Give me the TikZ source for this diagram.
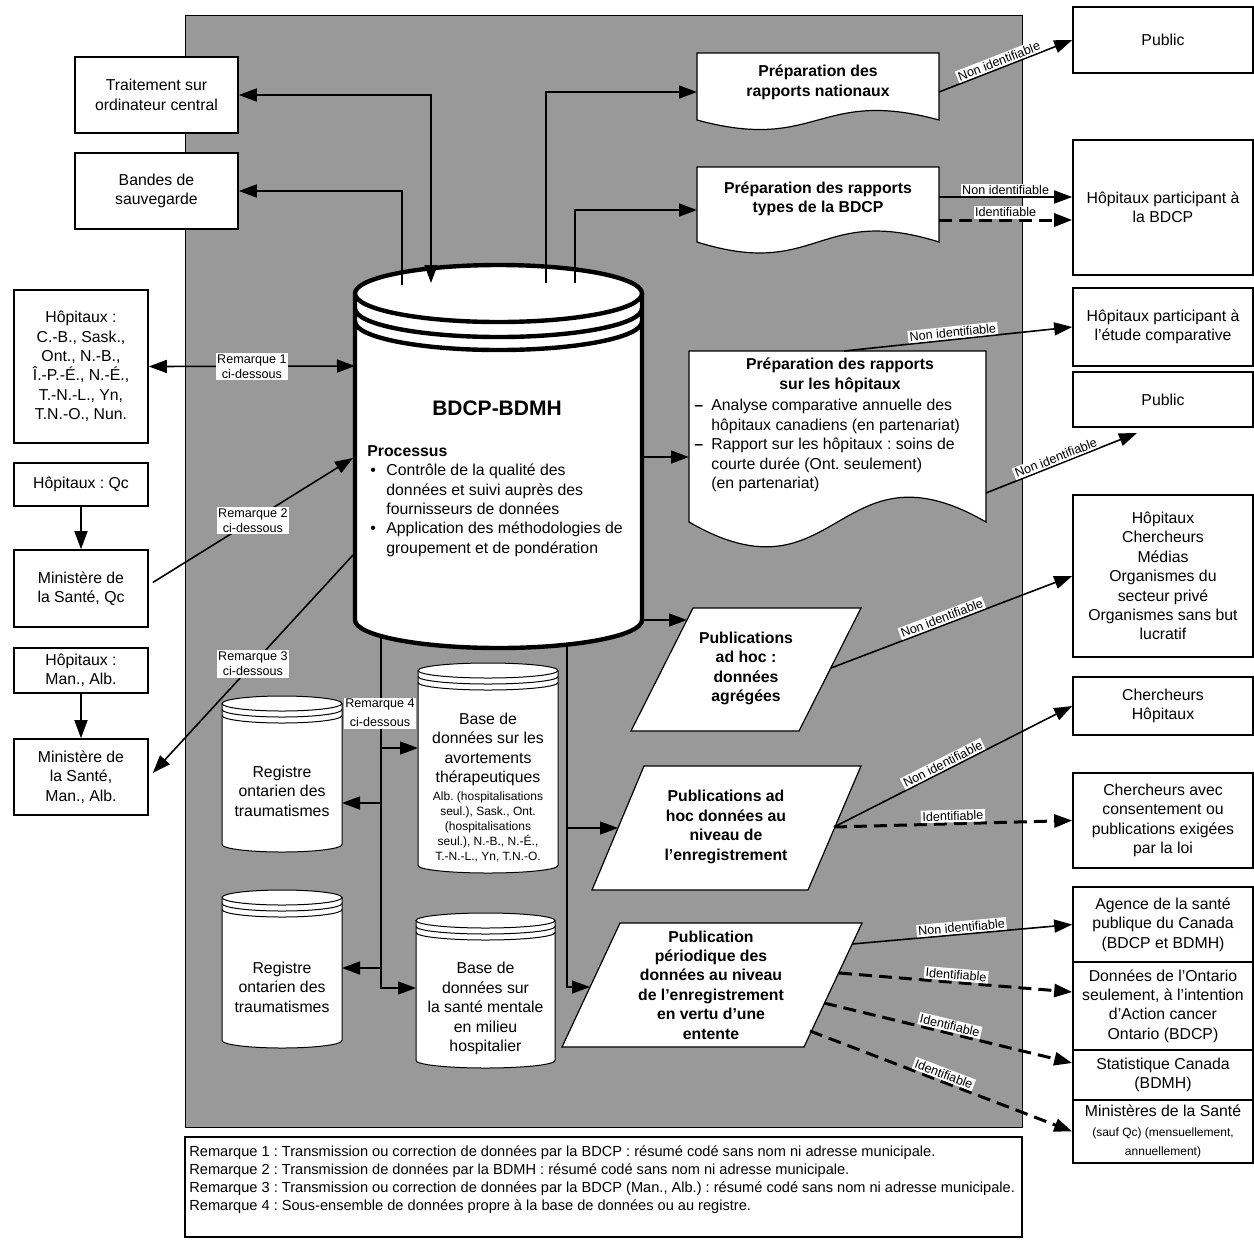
\documentclass[tikz,border=0pt]{standalone}
\usepackage{fontspec}
\setmainfont{Liberation Sans}
\usetikzlibrary{arrows.meta}
\newcommand\dgmfont{\fontsize{7.9}{9.7}\selectfont}
\newcommand\dgmsmall{\fontsize{6}{7.5}\selectfont}
\newcommand\dgmlab{\fontsize{6.3}{7.5}\selectfont}
\newcommand\dgmbig{\fontsize{10.5}{12}\selectfont}
\newcommand\dgmnote{\fontsize{7.3}{9}\selectfont}
\frenchspacing
\tikzset{
  box/.style={draw, fill=white, line width=0.8pt, align=center, font=\dgmfont, inner sep=1pt},
  lbox/.style={box, minimum width=67pt},
  rbox/.style={box, minimum width=90pt},
  shp/.style={draw, fill=white, line width=0.6pt},
  bigc/.style={draw, fill=white, line width=2.2pt},
  btxt/.style={font=\dgmfont\bfseries, align=center},
  lbl/.style={fill=white, inner sep=0.8pt, font=\dgmlab, align=center},
  arr/.style={-{Triangle[length=9pt,width=6.5pt]}, line width=0.8pt},
  arr2/.style={{Triangle[length=9pt,width=6.5pt]}-{Triangle[length=9pt,width=6.5pt]}, line width=0.8pt},
  darr/.style={arr, line width=1.5pt, dash pattern=on 6.5pt off 3.5pt},
}
\begin{document}
\frenchspacing
\begin{tikzpicture}[x=0.5pt, y=-0.5pt]
\useasboundingbox (0,0) rectangle (1254,1239);
% shaded area
\fill[black!40] (185,15) rectangle (1022,1127);
\draw[line width=0.5pt] (185,15) rectangle (1022,1127);

% left boxes
\node[box, minimum width=81.5pt, minimum height=38pt] (trait) at (156.5,95) {Traitement sur\\ordinateur central};
\node[box, minimum width=81.5pt, minimum height=38pt] (bandes) at (156.5,191) {Bandes de\\sauvegarde};
\node[lbox, minimum height=76.5pt] (hopA) at (81,366.5) {Hôpitaux :\\C.-B., Sask.,\\Ont., N.-B.,\\Î.-P.-É., N.-É.,\\T.-N.-L., Yn,\\T.N.-O., Nun.};
\node[lbox, minimum height=21.5pt] (hopQc) at (81,484.5) {Hôpitaux : Qc};
\node[lbox, minimum height=38.5pt] (minQc) at (81,588.5) {Ministère de\\la Santé, Qc};
\node[lbox, minimum height=22.5pt] (hopMA) at (81,670.5) {Hôpitaux :\\Man., Alb.};
\node[lbox, minimum height=38pt] (minMA) at (81,777) {Ministère de\\la Santé,\\Man., Alb.};

% right boxes
\node[rbox, minimum height=33pt] (pubA) at (1163,40) {Public};
\node[rbox, minimum height=67.5pt] (hopBDCP) at (1163,207.5) {Hôpitaux participant à\\la BDCP};
\node[rbox, minimum height=39pt] (hopEtude) at (1163,327) {Hôpitaux participant à\\l’étude comparative};
\node[rbox, minimum height=27.5pt] (pubB) at (1163,399.5) {Public};
\node[rbox, minimum height=81pt] (divers) at (1163,576) {Hôpitaux\\Chercheurs\\Médias\\Organismes du\\secteur privé\\Organismes sans but\\lucratif};
\node[rbox, minimum height=29pt] (cherHop) at (1163,706) {Chercheurs\\Hôpitaux};
\node[rbox, minimum height=47.5pt] (cherCons) at (1163,820.5) {Chercheurs avec\\consentement ou\\publications exigées\\par la loi};
\node[rbox, minimum height=37.5pt] (agence) at (1163,924.5) {Agence de la santé\\publique du Canada\\(BDCP et BDMH)};
\node[rbox, minimum height=44pt] (ontario) at (1163,1006) {Données de l’Ontario\\seulement, à l’intention\\d’Action cancer\\Ontario (BDCP)};
\node[rbox, minimum height=25pt] (statcan) at (1163,1075) {Statistique Canada\\(BDMH)};
\node[rbox, minimum height=31.5pt] (minSante) at (1163,1131.5) {Ministères de la Santé\\\dgmsmall (sauf Qc) (mensuellement,\\\dgmsmall annuellement)};

% notes
\node[draw, line width=0.6pt, minimum width=418.5pt, minimum height=50pt, inner sep=0] (notes) at (603.5,1187) {};
\node[anchor=north west, align=left, font=\dgmnote, inner sep=0] (notetxt) at (189,1145) {Remarque 1 : Transmission ou correction de données par la BDCP : résumé codé sans nom ni adresse municipale.\\
Remarque 2 : Transmission de données par la BDMH : résumé codé sans nom ni adresse municipale.\\
Remarque 3 : Transmission ou correction de données par la BDCP (Man., Alb.) : résumé codé sans nom ni adresse municipale.\\
Remarque 4 : Sous-ensemble de données propre à la base de données ou au registre.};

% documents
\draw[shp] (697,53) -- (939,53) -- (939,120) .. controls (818,87) and (818,153) .. (697,120) -- cycle;
\node[btxt] (nat) at (818,82.5) {Préparation des\\rapports nationaux};
\draw[shp] (697,167) -- (939,167) -- (939,242) .. controls (818,204) and (818,280) .. (697,242) -- cycle;
\node[btxt] (types) at (818,199) {Préparation des rapports\\types de la BDCP};
\draw[shp] (689,351) -- (986,351) -- (986,522) .. controls (837.5,436) and (837.5,608) .. (689,522) -- cycle;
\node[btxt] (hosp) at (840,375.5) {Préparation des rapports\\sur les hôpitaux};
\node[anchor=north west, align=left, font=\dgmfont, inner sep=0] (hospItems) at (694,399) {\makebox[8.5pt][l]{\textbf{–}}Analyse comparative annuelle des\\
\hspace*{8.5pt}hôpitaux canadiens (en partenariat)\\
\makebox[8.5pt][l]{\textbf{–}}Rapport sur les hôpitaux : soins de\\
\hspace*{8.5pt}courte durée (Ont. seulement)\\
\hspace*{8.5pt}(en partenariat)};

% parallelograms
\draw[shp] (693,608) -- (861,608) -- (799,731) -- (631,731) -- cycle;
\node[btxt] (adA) at (746,668.5) {Publications\\ad hoc :\\données\\agrégées};
\draw[shp] (644,766) -- (861,766) -- (808,890) -- (592,890) -- cycle;
\node[btxt] (adB) at (726,827) {Publications ad\\hoc données au\\niveau de\\l’enregistrement};
\draw[shp] (620,923) -- (862,923) -- (804,1047) -- (562,1047) -- cycle;
\node[btxt] (perio) at (711,985) {Publication\\périodique des\\données au niveau\\de l’enregistrement\\en vertu d’une\\entente};

% main cylinder
\draw[bigc] (355,293.5) -- (355,620) arc[start angle=180, end angle=0, x radius=143.5, y radius=28] -- (642,293.5);
\draw[bigc] (498.5,293.5) ellipse[x radius=143.5, y radius=28.5];
\draw[line width=2.2pt] (355,308.5) arc[start angle=180, end angle=0, x radius=143.5, y radius=28.5];
\draw[line width=2.2pt] (355,321.5) arc[start angle=180, end angle=0, x radius=143.5, y radius=28.5];
\node[font=\dgmbig\bfseries] (bdcp) at (497,408) {BDCP-BDMH};
\node[anchor=north west, align=left, font=\dgmfont, inner sep=0] (proc) at (367,445) {\textbf{Processus}\\
\makebox[9.5pt][l]{\hspace{1.5pt}\textbullet}Contrôle de la qualité des\\
\hspace*{9.5pt}données et suivi auprès des\\
\hspace*{9.5pt}fournisseurs de données\\
\makebox[9.5pt][l]{\hspace{1.5pt}\textbullet}Application des méthodologies de\\
\hspace*{9.5pt}groupement et de pondération};

% small cylinders
\foreach \cx/\rx/\tp/\bt in {282/60/703.5/844.5, 282/60/897.5/1040.5, 488/70/670.5/865.5, 485.5/69.5/920.5/1060.5} {
  \draw[shp, line width=0.5pt] (\cx-\rx,\tp) -- (\cx-\rx,\bt) arc[start angle=180, end angle=0, x radius=\rx, y radius=7.5] -- (\cx+\rx,\tp);
  \draw[shp, line width=0.5pt] (\cx,\tp) ellipse[x radius=\rx, y radius=7.5];
  \draw[line width=0.5pt] (\cx-\rx,\tp+6) arc[start angle=180, end angle=0, x radius=\rx, y radius=7.5];
  \draw[line width=0.5pt] (\cx-\rx,\tp+12) arc[start angle=180, end angle=0, x radius=\rx, y radius=7.5];
}
\node[align=center, font=\dgmfont] (reg1) at (282,791) {Registre\\ontarien des\\traumatismes};
\node[align=center, font=\dgmfont] (reg2) at (282,987) {Registre\\ontarien des\\traumatismes};
\node[align=center, font=\dgmfont] (avort) at (488,749.5) {Base de\\données sur les\\avortements\\thérapeutiques};
\node[align=center, font=\dgmsmall] (avortS) at (488,826.5) {Alb. (hospitalisations\\seul.), Sask., Ont.\\(hospitalisations\\seul.), N.-B., N.-É.,\\T.-N.-L., Yn, T.N.-O.};
\node[align=center, font=\dgmfont] (mental) at (485.5,1008.5) {Base de\\données sur\\la santé mentale\\en milieu\\hospitalier};

% connector ends
\coordinate (cTb) at (402,285);
\coordinate (cTt) at (431,283);
\coordinate (cTn) at (546,283);
\coordinate (cTp) at (575,283);
\coordinate (cL1) at (355,366);
\coordinate (cL2) at (353,458);
\coordinate (cL3) at (353,555);
\coordinate (cR1) at (642,457);
\coordinate (cR2) at (642,620);
\coordinate (cB1) at (381,636);
\coordinate (cB2) at (567,645);
\coordinate (natW) at (697,92);
\coordinate (natE) at (939,92);
\coordinate (typW) at (697,210);
\coordinate (typE1) at (939,197);
\coordinate (typE2) at (939,220);
\coordinate (hosW) at (689,457);
\coordinate (hosN) at (844,351);
\coordinate (hosE) at (986,493);
\coordinate (pubBpt) at (1137,433);
\coordinate (adAW) at (687,620);
\coordinate (adAE) at (831,668);
\coordinate (adBW) at (618,828);
\coordinate (adBE) at (834,827);
\coordinate (perW) at (590,987);
\coordinate (perE1) at (852,944);
\coordinate (perE2) at (839,973);
\coordinate (perE3) at (824,1003);
\coordinate (perE4) at (810,1031);
\coordinate (avW) at (418,748);
\coordinate (r1E) at (342,803);
\coordinate (r2E) at (342,968);
\coordinate (mnW) at (416,988);

% cylinder top links
\draw[arr2] (trait.east) -| (cTt);
\draw[arr] (cTb) |- (bandes.east);
\draw[arr] (cTn) |- (natW);
\draw[arr] (cTp) |- (typW);

% incoming data
\draw[arr2] (hopA.east) -- node[lbl] (rem1) {Remarque 1\\ci-dessous} (cL1);
\draw[arr] (hopQc) -- (minQc);
\draw[arr] (hopMA) -- (minMA);
\draw[arr] ([xshift=2pt,yshift=3pt]minQc.east) -- node[lbl] (rem2) {Remarque 2\\ci-dessous} (cL2);
\draw[arr] (cL3) -- node[lbl] (rem3) {Remarque 3\\ci-dessous} ([xshift=2pt,yshift=2pt]minMA.east);

% outgoing to reports
\draw[arr] (cR1) -- (hosW);
\draw[arr] (cR2) -- (adAW);
\draw[arr] (cB1) |- (mnW);
\draw[arr] (cB1 |- avW) -- (avW);
\draw[arr] (cB1 |- r1E) -- (r1E);
\draw[arr] (cB1 |- r2E) -- (r2E);
\node[lbl] (rem4) at (380,713) {Remarque 4\\[2pt]ci-dessous};
\draw[arr] (cB2) |- (perW);
\draw[arr] (cB2 |- adBW) -- (adBW);

% releases
\draw[arr] (natE) -- node[lbl, sloped, above, pos=0.47] (ni1) {Non identifiable} (pubA.west);
\draw[arr] (typE1) -- node[lbl, above] (ni2) {Non identifiable} (typE1 -| hopBDCP.west);
\draw[darr] (typE2) -- node[lbl, above] (id1) {Identifiable} (typE2 -| hopBDCP.west);
\draw[arr] (hosN) -- node[lbl, sloped, above, pos=0.48] (ni3) {Non identifiable} (hopEtude.west);
\draw[arr] (hosE) -- node[lbl, sloped, above, pos=0.48] (ni4) {Non identifiable} (pubBpt);
\draw[arr] (adAE) -- node[lbl, sloped, above, pos=0.47] (ni5) {Non identifiable} (divers.west);
\draw[arr] (adBE) -- node[lbl, sloped, above, pos=0.47] (ni6) {Non identifiable} (cherHop.west);
\draw[darr] (adBE) -- node[lbl, sloped, above, pos=0.5] (id2) {Identifiable} (cherCons.west);
\draw[arr] (perE1) -- node[lbl, sloped, above, pos=0.5] (ni7) {Non identifiable} (agence.west);
\draw[darr] (perE2) -- node[lbl, sloped, above, pos=0.5] (id3) {Identifiable} ([yshift=7pt]ontario.west);
\draw[darr] (perE3) -- node[lbl, sloped, above, pos=0.5] (id4) {Identifiable} ([yshift=6pt]statcan.west);
\draw[darr] (perE4) -- node[lbl, sloped, above, pos=0.5] (id5) {Identifiable} (minSante.west);
\end{tikzpicture}
\end{document}
